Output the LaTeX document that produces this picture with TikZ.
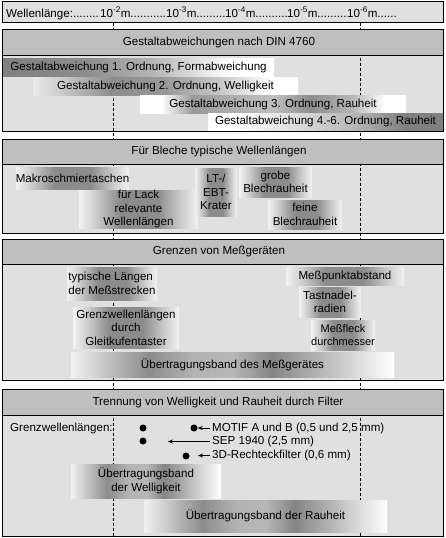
\documentclass[tikz,border=0pt]{standalone}
\usepackage{fontspec}
\setmainfont{Liberation Sans}
\usetikzlibrary{arrows.meta}

\pgfdeclarehorizontalshading{fade right}{100bp}{color(0bp)=(black!50); color(25bp)=(black!50); color(40bp)=(black!45); color(52bp)=(black!30); color(67bp)=(white); color(100bp)=(white)}
\pgfdeclarehorizontalshading{peak left}{100bp}{color(0bp)=(black!8); color(25bp)=(black!8); color(30bp)=(black!20); color(40bp)=(black!45); color(50bp)=(black!40); color(60bp)=(black!22); color(70bp)=(white); color(100bp)=(white)}
\pgfdeclarehorizontalshading{peak split}{100bp}{color(0bp)=(white); color(25bp)=(white); color(29bp)=(white); color(35bp)=(black!40); color(42bp)=(black!32); color(50bp)=(black!25); color(57bp)=(black!45); color(65bp)=(black!28); color(71bp)=(white); color(100bp)=(white)}
\pgfdeclarehorizontalshading{fade left}{100bp}{color(0bp)=(white); color(25bp)=(white); color(30bp)=(white); color(45bp)=(black!15); color(57bp)=(black!30); color(67bp)=(black!50); color(100bp)=(black!50)}
\pgfdeclarehorizontalshading{bump}{100bp}{color(0bp)=(black!5); color(25bp)=(black!5); color(32bp)=(black!20); color(42bp)=(black!45); color(58bp)=(black!45); color(68bp)=(black!20); color(75bp)=(black!5); color(100bp)=(black!5)}
\pgfdeclarehorizontalshading{twin}{100bp}{color(0bp)=(white); color(25bp)=(black!5); color(31bp)=(black!25); color(37bp)=(black!45); color(44bp)=(black!30); color(50bp)=(black!28); color(56bp)=(black!48); color(63bp)=(black!30); color(70bp)=(black!12); color(75bp)=(white); color(100bp)=(white)}

\tikzset{
  wave chart/.style={x=1pt, y=-1pt, font=\fontsize{11.6}{13.5}\selectfont},
  panel/.style={draw=black, line width=1pt, fill=black!12},
  panel head/.style={draw=black, line width=1pt, fill=black!25},
  scale line/.style={black, line width=0.9pt, dash pattern=on 3pt off 2pt},
  bar/.style={shade, shading=#1, inner sep=0pt, align=center},
  bar/.default=bump,
  txt/.style={inner sep=0pt},
  filter dot/.style={circle, fill=black, inner sep=0pt, minimum size=7pt},
  pointer/.style={-{Stealth[length=5pt, width=4pt]}, line width=0.8pt},
}

\begin{document}
\begin{tikzpicture}[wave chart]
\useasboundingbox (0,0) rectangle (446,538);
\fill[white] (0,0) rectangle (446,538);

% scale row
\draw[panel] (2.5,1) rectangle (443.5,22.5);
\node[txt, anchor=base west] (wl) at (6,17) {Wellenlänge:........};
\node[txt, anchor=base west] (e2) at (100,17) {10\textsuperscript{-2}m...........};
\node[txt, anchor=base west] (e3) at (166,17) {10\textsuperscript{-3}m.........};
\node[txt, anchor=base west] (e4) at (225,17) {10\textsuperscript{-4}m..........};
\node[txt, anchor=base west] (e5) at (287,17) {10\textsuperscript{-5}m.........};
\node[txt, anchor=base west] (e6) at (347,17) {10\textsuperscript{-6}m......};

% section bodies
\draw[panel] (2.5,55) rectangle (443.5,131);
\draw[panel] (2.5,164) rectangle (443.5,233);
\draw[panel] (2.5,264) rectangle (443.5,380);
\draw[panel] (2.5,415) rectangle (443.5,536);

% decade marks
\draw[scale line] (113,22.5) -- (113,536);
\draw[scale line] (360,22.5) -- (360,536);

% section heads
\draw[panel head] (2.5,29.5) rectangle (443.5,55);
\draw[panel head] (2.5,139) rectangle (443.5,164);
\draw[panel head] (2.5,239) rectangle (443.5,264);
\draw[panel head] (2.5,389) rectangle (443.5,415);
\node[txt] (head1) at (219,42.25) {Gestaltabweichungen nach DIN 4760};
\node[txt] (head2) at (219,151.5) {Für Bleche typische Wellenlängen};
\node[txt] (head3) at (219,251.5) {Grenzen von Meßgeräten};
\node[txt] (head4) at (218,402) {Trennung von Welligkeit und Rauheit durch Filter};

% DIN 4760
\node[bar=fade right, minimum width=271pt, minimum height=18pt] (ord1) at (138.5,67)
  {Gestaltabweichung 1. Ordnung, Formabweichung};
\node[bar=peak left, minimum width=265pt, minimum height=18pt] (ord2) at (165.5,86)
  {Gestaltabweichung 2. Ordnung, Welligkeit};
\node[bar=peak split, minimum width=266pt, minimum height=18pt] (ord3) at (273,104)
  {Gestaltabweichung 3. Ordnung, Rauheit};
\node[bar=fade left, minimum width=235pt, minimum height=17.5pt] (ord4) at (325.5,121.75)
  {Gestaltabweichung 4.-6. Ordnung, Rauheit};

% Bleche
\node[bar, minimum width=113pt, minimum height=22pt] (makro) at (72.5,178) {Makroschmiertaschen};
\node[bar, minimum width=119pt, minimum height=38pt] (lack) at (138.5,209) {für Lack\\relevante\\Wellenlängen};
\node[bar, minimum width=42pt, minimum height=48pt] (krater) at (216,192) {LT-/\\EBT-\\Krater};
\node[bar, minimum width=73pt, minimum height=30pt] (grob) at (275.5,182) {grobe\\Blechrauheit};
\node[bar, minimum width=74pt, minimum height=29pt] (fein) at (305,214.5) {feine\\Blechrauheit};

% Messgeraete
\node[bar, align=left, minimum width=90pt, minimum height=33pt] (strecke) at (112,283.5) {typische Längen\\der Meßstrecken};
\node[bar, minimum width=106pt, minimum height=41pt] (kufe) at (126,327.5) {Grenzwellenlängen\\durch\\Gleitkufentaster};
\node[bar=twin, minimum width=323pt, minimum height=25pt] (band) at (232.5,364.5) {Übertragungsband des Meßgerätes};
\node[bar, minimum width=118pt, minimum height=18pt] (punkt) at (345,276) {Meßpunktabstand};
\node[bar, minimum width=62pt, minimum height=30pt] (nadel) at (330,302) {Tastnadel-\\radien};
\node[bar, font=\fontsize{11}{13}\selectfont, minimum width=58pt, minimum height=30pt] (fleck) at (343,335) {Meßfleck\\durchmesser};

% Filter
\node[txt, anchor=west] (grenz) at (10,428) {Grenzwellenlängen:};
\node[filter dot] (d1) at (143,428) {};
\node[filter dot] (d2) at (194,428) {};
\node[filter dot] (d3) at (143,441) {};
\node[filter dot] (d4) at (186,456) {};
\node[txt, anchor=west] (motif) at (212,428) {MOTIF A und B (0,5 und 2,5 mm)};
\node[txt, anchor=west] (sep) at (212,441.5) {SEP 1940 (2,5 mm)};
\node[txt, anchor=west] (rect) at (212,455.5) {3D-Rechteckfilter (0,6 mm)};
\coordinate (sepend) at (168,441.5);
\coordinate (rectend) at (198,455.5);
\draw[pointer] ([xshift=-2pt]motif.west) -- (d2.east);
\draw[pointer] ([xshift=-2pt]sep.west) -- (sepend);
\draw[pointer] ([xshift=-2pt]rect.west) -- (rectend);

\node[bar=twin, minimum width=150pt, minimum height=34pt] (well) at (146,481) {Übertragungsband\\der Welligkeit};
\node[bar=twin, minimum width=243pt, minimum height=32pt] (rau) at (265.5,516) {Übertragungsband der Rauheit};
\end{tikzpicture}
\end{document}
